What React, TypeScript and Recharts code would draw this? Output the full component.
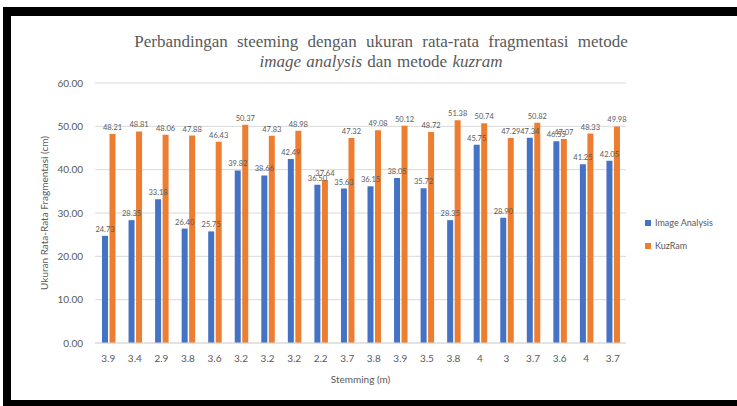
import React from "react";
import {
  BarChart,
  Bar,
  XAxis,
  YAxis,
  CartesianGrid,
  LabelList,
} from "recharts";

const stemming = [
  "3.9", "3.4", "2.9", "3.8", "3.6", "3.2", "3.2", "3.2", "2.2", "3.7",
  "3.8", "3.9", "3.5", "3.8", "4", "3", "3.7", "3.6", "4", "3.7",
];

const imageAnalysis = [
  24.73, 28.35, 33.18, 26.4, 25.75, 39.82, 38.66, 42.49, 36.5, 35.63,
  36.15, 38.05, 35.72, 28.35, 45.75, 28.9, 47.34, 46.55, 41.25, 42.05,
];

const kuzRam = [
  48.21, 48.81, 48.06, 47.88, 46.43, 50.37, 47.83, 48.98, 37.64, 47.32,
  49.08, 50.12, 48.72, 51.38, 50.74, 47.29, 50.82, 47.07, 48.33, 49.98,
];

const yTicks = [0, 10, 20, 30, 40, 50, 60];

const BLUE = "#4472C4";
const ORANGE = "#ED7D31";
const TEXT = "#595959";
const SANS = "Lato, 'Liberation Sans', sans-serif";
const SERIF = "'Liberation Serif', 'DejaVu Serif', serif";

const series = [
  { key: "image", name: "Image Analysis", color: BLUE },
  { key: "kuzram", name: "KuzRam", color: ORANGE },
];

const data = stemming.map((s, i) => ({
  stemming: s,
  image: imageAnalysis[i],
  kuzram: kuzRam[i],
}));

const fmt = (v: number) => v.toFixed(2);

export default function App() {
  return (
    <div
      style={{
        position: "absolute",
        left: 0,
        top: 0,
        width: 737,
        height: 406,
        background: "#fff",
        overflow: "hidden",
      }}
    >
      {/* black frame from the screenshot */}
      <div style={{ position: "absolute", left: 3, top: 7, width: 734, height: 9, background: "#000" }} />
      <div style={{ position: "absolute", left: 3, top: 7, width: 8, height: 399, background: "#000" }} />
      <div style={{ position: "absolute", left: 3, top: 400, width: 734, height: 6, background: "#000" }} />

      <div
        style={{
          position: "absolute",
          left: 0,
          top: 32,
          width: 762,
          textAlign: "center",
          fontFamily: SERIF,
          fontSize: 17,
          color: TEXT,
          lineHeight: "20px",
          wordSpacing: 5,
        }}
      >
        <div>Perbandingan steeming dengan ukuran rata-rata fragmentasi metode</div>
        <div style={{ wordSpacing: 1 }}>
          <i>image analysis</i> dan metode <i>kuzram</i>
        </div>
      </div>

      <div style={{ position: "absolute", left: 0, top: 0 }}>
        <BarChart
          width={737}
          height={406}
          data={data}
          margin={{ top: 83, right: 111, bottom: 23, left: 30 }}
          barSize={6}
          barGap={1.5}
        >
          <CartesianGrid vertical={false} stroke="#D9D9D9" />
          <XAxis
            dataKey="stemming"
            height={40}
            tickLine={false}
            axisLine={{ stroke: "#D9D9D9" }}
            tick={{ fill: TEXT, fontSize: 10, fontFamily: SANS }}
            tickMargin={6}
            interval={0}
            label={{
              value: "Stemming (m)",
              position: "insideBottom",
              offset: 0,
              fill: TEXT,
              fontSize: 10,
              fontFamily: SANS,
            }}
          />
          <YAxis
            width={65}
            domain={[0, 60]}
            ticks={yTicks}
            tickFormatter={fmt}
            tickLine={false}
            axisLine={false}
            tickMargin={6}
            tick={{ fill: TEXT, fontSize: 10, fontFamily: SANS }}
            label={{
              value: "Ukuran Rata-Rata Fragmentasi (cm)",
              angle: -90,
              position: "insideLeft",
              offset: 14,
              style: { textAnchor: "middle" },
              fill: TEXT,
              fontSize: 10,
              fontFamily: SANS,
            }}
          />
          {series.map((s) => (
            <Bar
              key={s.key}
              dataKey={s.key}
              name={s.name}
              fill={s.color}
              isAnimationActive={false}
            >
              <LabelList
                dataKey={s.key}
                position="top"
                formatter={(v: any) => fmt(Number(v))}
                style={{ fill: TEXT, fontSize: 7.5, fontFamily: SANS }}
                offset={4}
              />
            </Bar>
          ))}
        </BarChart>
      </div>

      {/* legend */}
      <div
        style={{
          position: "absolute",
          left: 645,
          top: 211,
          fontFamily: SANS,
          fontSize: 9,
          color: TEXT,
        }}
      >
        {series.map((s) => (
          <div key={s.key} style={{ display: "flex", alignItems: "center", height: 23 }}>
            <span
              style={{
                width: 6,
                height: 6,
                background: s.color,
                display: "inline-block",
                marginRight: 4,
              }}
            />
            {s.name}
          </div>
        ))}
      </div>
    </div>
  );
}
